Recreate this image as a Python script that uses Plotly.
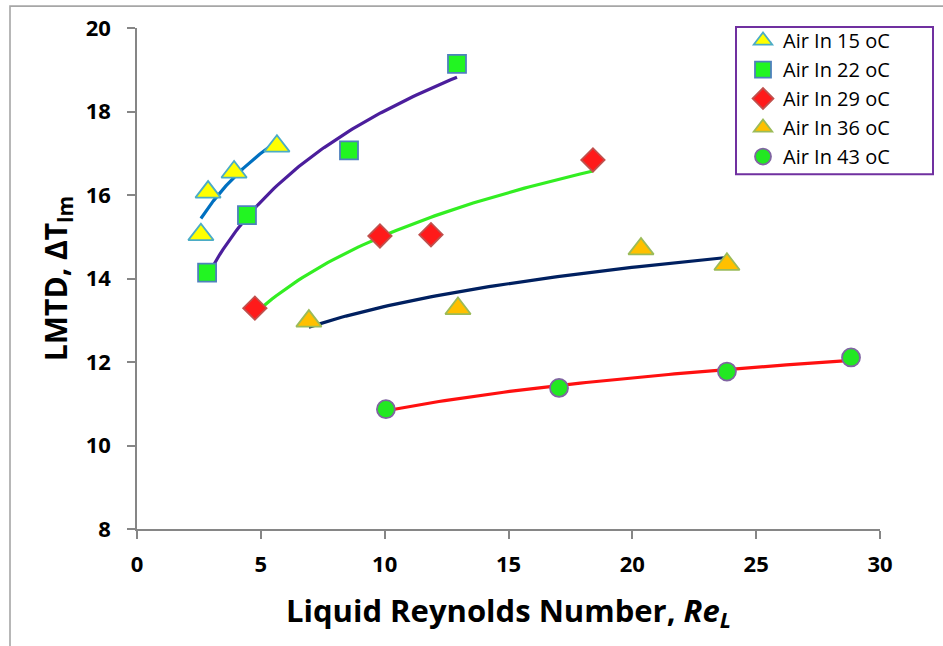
import numpy as np
import plotly.graph_objects as go

# ---- data ----
x15 = [2.58, 2.87, 3.92, 5.65]
y15 = [15.05, 16.07, 16.55, 17.17]
x22 = [2.83, 4.44, 8.56, 12.92]
y22 = [14.14, 15.52, 17.07, 19.14]
x29 = [4.76, 9.81, 11.87, 18.41]
y29 = [13.29, 15.02, 15.05, 16.84]
x36 = [6.94, 12.96, 20.35, 23.82]
y36 = [12.98, 13.28, 14.71, 14.34]
x43 = [10.05, 17.04, 23.82, 28.83]
y43 = [10.87, 11.38, 11.77, 12.11]

x_ticks = [0, 5, 10, 15, 20, 25, 30]
y_ticks = [8, 10, 12, 14, 16, 18, 20]

names = ["Air In 15 oC", "Air In 22 oC", "Air In 29 oC", "Air In 36 oC", "Air In 43 oC"]
xs = [x15, x22, x29, x36, x43]
ys = [y15, y22, y29, y36, y43]
symbols = ["triangle-up", "square", "diamond", "triangle-up", "circle"]
fills = ["#FFFF00", "#22F522", "#FF1A1A", "#FFC000", "#22E822"]
edges = ["#4BACC6", "#4F81BD", "#C0504D", "#9BBB59", "#8064A2"]
sizes = [22, 18, 18, 22, 18]
fitcolors = ["#0070C0", "#4B1E9C", "#33EE22", "#002060", "#FF1010"]

fig = go.Figure()

# logarithmic trendlines (least squares on ln x), like a spreadsheet log trendline
for i in range(5):
    xa = np.array(xs[i]); ya = np.array(ys[i])
    b, a = np.polyfit(np.log(xa), ya, 1)
    xf = np.linspace(xa.min(), xa.max(), 80)
    fig.add_trace(go.Scatter(x=xf, y=a + b * np.log(xf), mode="lines",
                             line=dict(color=fitcolors[i], width=3.2),
                             showlegend=False, hoverinfo="skip"))

for i in range(5):
    fig.add_trace(go.Scatter(
        x=xs[i], y=ys[i], mode="markers", name=names[i], legendgroup=names[i],
        marker=dict(symbol=symbols[i], size=sizes[i], color=fills[i],
                    line=dict(color=edges[i], width=1.8))))

L, R, T, B = 137, 63, 25, 117
W, H = 943, 646
pw, ph = W - L - R, H - T - B

def px(xp):
    return (xp - L) / pw

def py(yp):
    return 1 - (yp - T) / ph

# outer chart border
fig.add_shape(type="rect", xref="paper", yref="paper",
              x0=px(10), x1=px(1100), y0=py(800), y1=py(3),
              line=dict(color="#A6A6A6", width=1.6), fillcolor="rgba(0,0,0,0)", layer="below")
# legend frame
fig.add_shape(type="rect", xref="paper", yref="paper",
              x0=px(736), x1=px(933), y0=py(172), y1=py(24),
              line=dict(color="#7030A0", width=2), fillcolor="white", layer="above")

FONT = "Open Sans, Lato, sans-serif"

fig.update_layout(
    width=W, height=H,
    margin=dict(l=L, r=R, t=T, b=B),
    paper_bgcolor="white", plot_bgcolor="white",
    font=dict(family=FONT, color="#000000"),
    xaxis=dict(range=[0, 30], tickvals=x_ticks,
               ticktext=["<b>%d</b>" % v for v in x_ticks],
               showgrid=False, zeroline=False, showline=True,
               linecolor="#868686", linewidth=1.5,
               ticks="outside", ticklen=8, tickcolor="#868686", tickwidth=1.5,
               ticklabelstandoff=7,
               tickfont=dict(size=22, family=FONT),
               title=dict(text="<b>Liquid Reynolds Number, <i>Re<sub>L</sub></i></b>",
                          font=dict(size=31, family=FONT),
                          standoff=23)),
    yaxis=dict(range=[8, 20], tickvals=y_ticks,
               ticktext=["<b>%d</b>" % v for v in y_ticks],
               showgrid=False, zeroline=False, showline=True,
               linecolor="#868686", linewidth=1.5,
               ticks="outside", ticklen=8, tickcolor="#868686", tickwidth=1.5,
               ticklabelstandoff=12,
               tickfont=dict(size=22, family=FONT),
               title=dict(text="<b>LMTD, ΔT<sub>lm</sub></b>",
                          font=dict(size=30, family=FONT),
                          standoff=9)),
    legend=dict(x=px(743), y=py(18), xanchor="left", yanchor="top",
                borderwidth=0, bgcolor="rgba(0,0,0,0)",
                font=dict(size=20, family=FONT, color="#000000"),
                tracegroupgap=0, itemwidth=30),
    showlegend=True,
)

fig.write_html("out.html")
